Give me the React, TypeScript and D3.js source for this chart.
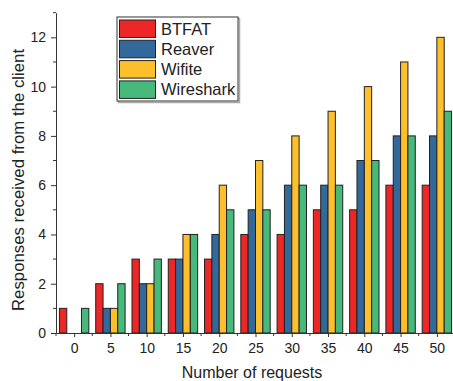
import React, { useRef, useEffect } from 'react';
import * as d3 from 'd3';

const requests = [0, 5, 10, 15, 20, 25, 30, 35, 40, 45, 50];
const seriesNames = ['BTFAT', 'Reaver', 'Wifite', 'Wireshark'];
const btfat = [1, 2, 3, 3, 3, 4, 4, 5, 5, 6, 6];
const reaver = [0, 1, 2, 3, 4, 5, 6, 6, 7, 8, 8];
const wifite = [0, 1, 2, 4, 6, 7, 8, 9, 10, 11, 12];
const wireshark = [1, 2, 3, 4, 5, 5, 6, 6, 7, 8, 9];
const colors = ['#ED2626', '#33689A', '#FDBF2B', '#47B97A'];

export default function App() {
  const svgRef = useRef<SVGSVGElement>(null);

  useEffect(() => {
    const width = 453;
    const height = 381;
    const marginLeft = 56;
    const marginRight = -2;
    const marginTop = 12.7;
    const marginBottom = 48;
    const font = 'Arial, "Liberation Sans", sans-serif';
    const textColor = '#222';

    const svg = d3.select(svgRef.current);
    svg.selectAll('*').remove();
    svg.attr('width', width).attr('height', height).attr('viewBox', [0, 0, width, height].join(' '));

    const x = d3.scaleLinear()
      .domain([-2.5, 52.5])
      .range([marginLeft, width - marginRight]);

    const y = d3.scaleLinear()
      .domain([0, 13])
      .range([height - marginBottom, marginTop]);

    const groupW = (x(5) - x(0)) * 0.81;
    const xSub = d3.scaleBand()
      .domain(seriesNames)
      .range([-groupW / 2, groupW / 2])
      .padding(0);

    const allSeries = [btfat, reaver, wifite, wireshark];

    allSeries.forEach((vals, si) => {
      svg.append('g')
        .selectAll('rect')
        .data(requests.map((r, i) => ({ r, v: vals[i] })).filter(d => d.v > 0))
        .join('rect')
        .attr('x', d => x(d.r) + (xSub(seriesNames[si]) as number))
        .attr('y', d => y(d.v))
        .attr('width', xSub.bandwidth())
        .attr('height', d => y(0) - y(d.v))
        .attr('fill', colors[si])
        .attr('stroke', '#222')
        .attr('stroke-width', 1);
    });

    // x axis
    const gx = svg.append('g')
      .attr('transform', `translate(0,${y(0)})`);
    gx.call(d3.axisBottom(x).tickValues(requests).tickSize(4).tickSizeOuter(0).tickPadding(6))
      .call(g => g.select('.domain').attr('stroke', '#333'))
      .call(g => g.selectAll('.tick line').attr('stroke', '#333'))
      .call(g => g.selectAll('.tick text')
        .attr('font-family', font).attr('font-size', 14).attr('fill', textColor));
    gx.append('g')
      .selectAll('line')
      .data(d3.range(-2.5, 53, 5))
      .join('line')
      .attr('x1', d => x(d)).attr('x2', d => x(d))
      .attr('y1', 0).attr('y2', 3)
      .attr('stroke', '#333');

    // y axis
    const gy = svg.append('g')
      .attr('transform', `translate(${marginLeft},0)`);
    gy.call(d3.axisLeft(y).tickValues(d3.range(0, 13, 2)).tickSize(5).tickSizeOuter(0).tickPadding(5))
      .call(g => g.select('.domain').attr('stroke', '#333'))
      .call(g => g.selectAll('.tick line').attr('stroke', '#333'))
      .call(g => g.selectAll('.tick text')
        .attr('font-family', font).attr('font-size', 14).attr('fill', textColor));
    gy.append('g')
      .selectAll('line')
      .data(d3.range(1, 14, 2))
      .join('line')
      .attr('x1', 0).attr('x2', -3)
      .attr('y1', d => y(d)).attr('y2', d => y(d))
      .attr('stroke', '#333');

    // axis titles
    svg.append('text')
      .attr('x', 252)
      .attr('y', 378)
      .attr('text-anchor', 'middle')
      .attr('font-family', font)
      .attr('font-size', 16)
      .attr('fill', textColor)
      .text('Number of requests');

    svg.append('text')
      .attr('transform', `translate(24,180) rotate(-90)`)
      .attr('text-anchor', 'middle')
      .attr('font-family', font)
      .attr('font-size', 16.8)
      .attr('fill', textColor)
      .text('Responses received from the client');

    // legend
    const legend = svg.append('g').attr('transform', 'translate(117,17)');
    legend.append('rect')
      .attr('x', 1.5).attr('y', 1.5).attr('width', 121).attr('height', 84)
      .attr('fill', 'none').attr('stroke', '#aaa').attr('stroke-width', 1.5);
    legend.append('rect')
      .attr('x', 0).attr('y', 0).attr('width', 121).attr('height', 84)
      .attr('fill', 'white').attr('stroke', '#333').attr('stroke-width', 1);
    seriesNames.forEach((name, i) => {
      legend.append('rect')
        .attr('x', 2.5).attr('y', 3 + i * 20.3)
        .attr('width', 36).attr('height', 17.5)
        .attr('fill', colors[i]).attr('stroke', '#222');
      legend.append('text')
        .attr('x', 44).attr('y', 17.5 + i * 20.3)
        .attr('font-family', font).attr('font-size', 16.5)
        .attr('fill', textColor)
        .text(name);
    });
  }, []);

  return (
    <svg ref={svgRef} style={{ position: 'absolute', left: 0, top: 0, display: 'block', background: 'white' }} />
  );
}
